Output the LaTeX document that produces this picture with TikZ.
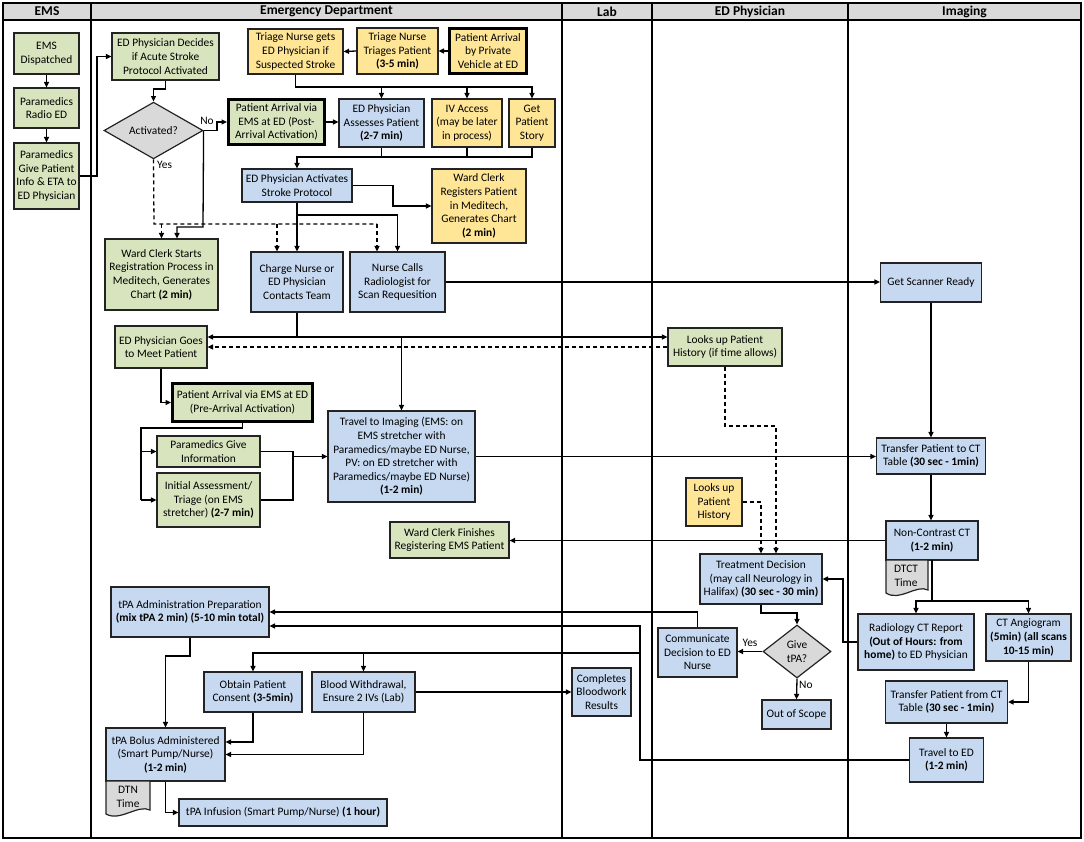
\documentclass[tikz,border=0pt]{standalone}
\usepackage{fontspec}
\setmainfont{Carlito}
\usetikzlibrary{arrows.meta,shapes.geometric}
\definecolor{gfill}{RGB}{215,228,189}
\definecolor{bfill}{RGB}{198,217,241}
\definecolor{yfill}{RGB}{255,229,150}
\definecolor{grfill}{RGB}{217,217,217}
\definecolor{bord}{RGB}{35,35,35}
\tikzset{
  box/.style={draw=bord, line width=1.2pt, align=center, inner sep=1pt, font=\fontsize{11.4}{13.6}\selectfont},
  gbox/.style={box, fill=gfill},
  bbox/.style={box, fill=bfill},
  ybox/.style={box, fill=yfill},
  thickb/.style={draw=black, line width=3pt},
  dia/.style={box, shape=diamond, fill=grfill, inner sep=0pt},
  lane/.style={line width=2.4pt, black},
  conn/.style={line width=1.3pt, black, -{Triangle[length=5.5pt,width=5pt]}},
  plain/.style={line width=1.3pt, black},
  dplain/.style={line width=1.3pt, black, dash pattern=on 4pt off 3pt},
  dconn/.style={dplain, -{Triangle[length=5.5pt,width=5pt]}},
  doc/.style={draw=bord, line width=1.2pt, fill=grfill},
  lbl/.style={font=\fontsize{11.4}{13.6}\selectfont, inner sep=1pt},
  hdr/.style={font=\bfseries\fontsize{13.5}{15}\selectfont, inner sep=0pt}
}
\begin{document}
\begin{tikzpicture}[x=1pt,y=-1pt]
\useasboundingbox (0,0) rectangle (1084,841);
% lanes
\fill[grfill] (3,3) rectangle (1081,20);
\draw[lane] (3,3) rectangle (1081,838);
\draw[lane] (3,20) -- (1081,20);
\foreach \xx in {91,562,652,848} \draw[lane] (\xx,3) -- (\xx,838);
\node[hdr] (h1) at (47,11.5) {EMS};
\node[hdr] (h2) at (326.5,11.5) {Emergency Department};
\node[hdr] (h3) at (607,11.5) {Lab};
\node[hdr] (h4) at (750,11.5) {ED Physician};
\node[hdr] (h5) at (964.5,11.5) {Imaging};

% EMS lane
\node[gbox, minimum width=65pt, minimum height=41pt] (ems1) at (46.5,53.5) {EMS\\Dispatched};
\node[gbox, minimum width=65pt, minimum height=40pt] (ems2) at (46.5,108) {Paramedics\\Radio ED};
\node[gbox, minimum width=65pt, minimum height=66pt] (ems3) at (46.5,176) {Paramedics\\Give Patient\\Info \& ETA to\\ED Physician};

% ED lane top
\node[gbox, minimum width=107pt, minimum height=47pt] (decide) at (165.5,56.5) {ED Physician Decides\\if Acute Stroke\\Protocol Activated};
\node[dia, minimum width=99pt, minimum height=55pt] (act) at (153.5,130.5) {Activated?};
\node[gbox, thickb, minimum width=96pt, minimum height=45pt] (post) at (276.5,122) {Patient Arrival via\\EMS at ED (Post-\\Arrival Activation)};
\node[bbox, minimum width=85pt, minimum height=48pt] (assess) at (381.5,123) {ED Physician\\Assesses Patient\\\textbf{(2-7 min)}};
\node[ybox, minimum width=70pt, minimum height=48pt] (iv) at (467,123) {IV Access\\(may be later\\in process)};
\node[ybox, minimum width=46pt, minimum height=48pt] (story) at (532,123) {Get\\Patient\\Story};
\node[ybox, minimum width=95pt, minimum height=45pt] (triage1) at (295.5,51.5) {Triage Nurse gets\\ED Physician if\\Suspected Stroke};
\node[ybox, minimum width=81pt, minimum height=46pt] (triage2) at (397.5,51) {Triage Nurse\\Triages Patient\\\textbf{(3-5 min)}};
\node[ybox, thickb, minimum width=77pt, minimum height=45pt] (pv) at (488,51) {Patient Arrival\\by Private\\Vehicle at ED};
\node[bbox, minimum width=110pt, minimum height=33pt] (activates) at (297,185.5) {ED Physician Activates\\Stroke Protocol};
\node[ybox, minimum width=94pt, minimum height=74pt] (clerk2) at (479,206) {Ward Clerk\\Registers Patient\\in Meditech,\\Generates Chart\\\textbf{(2 min)}};
\node[bbox, minimum width=92pt, minimum height=60pt] (charge) at (297,282) {Charge Nurse or\\ED Physician\\Contacts Team};
\node[bbox, minimum width=95pt, minimum height=60pt] (nursecalls) at (397.5,282) {Nurse Calls\\Radiologist for\\Scan Requesition};
\node[gbox, minimum width=113pt, minimum height=71pt] (ward1) at (161.5,274.5) {Ward Clerk Starts\\Registration Process in\\Meditech, Generates\\Chart \textbf{(2 min)}};
\node[bbox, minimum width=101pt, minimum height=39pt] (scanner) at (931,282.5) {Get Scanner Ready};
\node[gbox, minimum width=92pt, minimum height=42pt] (goesmeet) at (161,347) {ED Physician Goes\\to Meet Patient};
\node[gbox, minimum width=114pt, minimum height=38pt] (lookup1) at (725,347) {Looks up Patient\\History (if time allows)};
\node[gbox, thickb, minimum width=140pt, minimum height=38pt] (prearr) at (242.5,402.5) {Patient Arrival via EMS at ED\\(Pre-Arrival Activation)};
\node[gbox, minimum width=103pt, minimum height=31pt] (paraminfo) at (208.5,451.5) {Paramedics Give\\Information};
\node[gbox, minimum width=103pt, minimum height=54pt] (initial) at (208.5,500) {Initial Assessment/\\Triage (on EMS\\stretcher) \textbf{(2-7 min)}};
\node[bbox, minimum width=147pt, minimum height=91pt] (travel) at (401.5,456.5) {Travel to Imaging (EMS: on\\EMS stretcher with\\Paramedics/maybe ED Nurse,\\PV: on ED stretcher with\\Paramedics/maybe ED Nurse)\\\textbf{(1-2 min)}};
\node[bbox, minimum width=109pt, minimum height=36pt] (transfer) at (931,456) {Transfer Patient to CT\\Table \textbf{(30 sec - 1min)}};
\node[bbox, minimum width=92pt, minimum height=39pt] (noncon) at (932,540.5) {Non-Contrast CT\\\textbf{(1-2 min)}};
\node[gbox, minimum width=119pt, minimum height=36pt] (clerk3) at (449.5,540) {Ward Clerk Finishes\\Registering EMS Patient};
\node[ybox, minimum width=56pt, minimum height=48pt] (lookup2) at (714,502) {Looks up\\Patient\\History};
\node[bbox, minimum width=122pt, minimum height=50pt] (treatment) at (761,579) {Treatment Decision\\(may call Neurology in\\Halifax) \textbf{(30 sec - 30 min)}};
\node[bbox, minimum width=116pt, minimum height=56pt] (radreport) at (916,642) {Radiology CT Report\\\textbf{(Out of Hours: from}\\\textbf{home)} to ED Physician};
\node[bbox, minimum width=85pt, minimum height=47pt] (ctangio) at (1028.5,637.5) {CT Angiogram\\\textbf{(5min) (all scans}\\\textbf{10-15 min)}};
\node[bbox, minimum width=122pt, minimum height=42pt] (transfer2) at (946.5,702) {Transfer Patient from CT\\Table \textbf{(30 sec - 1min)}};
\node[bbox, minimum width=74pt, minimum height=44pt] (traveled) at (946.5,760) {Travel to ED\\\textbf{(1-2 min)}};
\node[bbox, minimum width=79pt, minimum height=49pt] (comm) at (697.5,652.5) {Communicate\\Decision to ED\\Nurse};
\node[dia, minimum width=68pt, minimum height=53pt] (give) at (797,651.5) {Give\\tPA?};
\node[bbox, minimum width=69pt, minimum height=29pt] (outscope) at (796.5,714.5) {Out of Scope};
\node[bbox, minimum width=158pt, minimum height=50pt] (tpaprep) at (190,612) {tPA Administration Preparation\\\textbf{(mix tPA 2 min) (5-10 min total)}};
\node[bbox, minimum width=98pt, minimum height=40pt] (consent) at (253,692) {Obtain Patient\\Consent \textbf{(3-5min)}};
\node[bbox, minimum width=103pt, minimum height=40pt] (blood) at (363.5,692) {Blood Withdrawal,\\Ensure 2 IVs (Lab)};
\node[bbox, minimum width=59pt, minimum height=48pt] (complete) at (601.5,692) {Completes\\Bloodwork\\Results};
\node[bbox, minimum width=119pt, minimum height=53pt] (bolus) at (165.5,754.5) {tPA Bolus Administered\\(Smart Pump/Nurse)\\\textbf{(1-2 min)}};
\node[bbox, minimum width=208pt, minimum height=27pt] (infusion) at (283,812.5) {tPA Infusion (Smart Pump/Nurse) \textbf{(1 hour)}};

% document shapes
\draw[doc] (886,560) -- (928,560) -- (928,590) .. controls (916,584) and (900,602) .. (886,593) -- cycle;
\node[lbl, align=center] (dtct) at (906,576) {DTCT\\Time};
\draw[doc] (106,781) -- (150,781) -- (150,810) .. controls (138,804) and (120,822) .. (106,814) -- cycle;
\node[lbl, align=center] (dtn) at (128,797) {DTN\\Time};

% connectors
\draw[conn] (ems1) -- (ems2);
\draw[conn] (ems2) -- (ems3);
\draw[conn] (ems3.east) -- (97,176) |- (decide.west);
\draw[conn] (decide.south) -- (165.5,89) -| (act.north);
\draw[conn] (act.east) -- (217,130.5) |- (post.west);
\node[lbl] (nolbl) at (207,121) {No};
\draw[conn] (act.east) -- (203,227) -| ([xshift=15.5pt]ward1.north);
\draw[dplain] (act.south) -- (154,224) -- (377,224);
\node[lbl, anchor=west] (yeslbl) at (156,165) {Yes};
\draw[dconn] (161.5,224) -- (ward1.north);
\draw[dconn] (277,224) -- ([xshift=-20pt]charge.north);
\draw[dconn] (377,224) -- ([xshift=-20.5pt]nursecalls.north);
\draw[conn] (post.east) -- (post.east -| assess.west);
\draw[conn] (pv.west) -- (triage2.east);
\draw[conn] (triage2.west) -- (triage1.east);
\draw[conn] (triage1.south) |- (532,87) -- (story.north);
\draw[conn] (381.5,87) -- (assess.north);
\draw[conn] (467,87) -- (iv.north);
\draw[plain] (assess.south) -- (381.5,157);
\draw[plain] (iv.south) -- (467,157);
\draw[conn] (story.south) |- (297,157) -- (activates.north);
\draw[conn] (activates.east) -- (393,185.5) |- (clerk2.west);
\draw[conn] (activates.south) -- (charge.north);
\draw[conn] (297,215) -| (nursecalls.north);
\draw[conn] (nursecalls.east) -- (nursecalls.east -| scanner.west);
\draw[plain] (charge.south) -- (297,337);
\draw[conn] (297,337) -- ([yshift=10pt]goesmeet.east);
\draw[conn] (297,337) -- ([yshift=10pt]lookup1.west);
\draw[conn] (401.5,337) -- (travel.north);
\draw[dconn] (lookup1.west) -- (goesmeet.east);
\draw[dconn] (lookup1.south) |- (776,426) -- ([xshift=15pt]treatment.north);
\draw[dconn] (lookup2.east) -| (treatment.north);
\draw[conn] (goesmeet.south) |- (prearr.west);
\draw[plain] (prearr.south) -- (242.5,428) -- (141,428) -- (141,500);
\draw[conn] (141,451.5) -- (paraminfo.west);
\draw[conn] (141,500) -- (initial.west);
\draw[plain] (paraminfo.east) -- (293,451.5) -- (293,500) -- (initial.east);
\draw[conn] (293,456.5) -- (travel.west);
\draw[conn] (travel.east) -- (travel.east -| transfer.west);
\draw[conn] (scanner.south) -- (transfer.north);
\draw[conn] (transfer.south) -- (transfer.south |- noncon.north);
\draw[conn] (noncon.west) -- (noncon.west -| clerk3.east);
\draw[plain] (932,560) -- (932,601);
\draw[conn] (932,601) -- (916,601) -- (radreport.north);
\draw[conn] (932,601) -- (1028.5,601) -- (ctangio.north);
\draw[conn] (radreport.west) -- (843,642) |- (treatment.east);
\draw[conn] (ctangio.south) |- (transfer2.east);
\draw[conn] (transfer2.south) -- (traveled.north);
\draw[conn] (traveled.west) -- (640,760) -- (640,626) -- ([yshift=-14pt]tpaprep.east);
\draw[conn] (640,653) -| (consent.north);
\draw[conn] (363.5,653) -- (blood.north);
\draw[conn] (comm.north) |- (tpaprep.east);
\draw[conn] (treatment.south) |- (797,613) -- (give.north);
\draw[conn] (give.west) -- (give.west -| comm.east);
\node[lbl] (yes2) at (750,643) {Yes};
\draw[conn] (give.south) -- (outscope.north);
\node[lbl, anchor=west] (no2) at (798,685) {No};
\draw[conn] (tpaprep.south) -- (190,656) -| (bolus.north);
\draw[conn] (consent.south) |- ([yshift=12.5pt]bolus.east);
\draw[conn] (blood.south) |- (bolus.east);
\draw[conn] (blood.east) -- (complete.west);
\draw[conn] (bolus.south) |- (infusion.west);
\end{tikzpicture}
\end{document}
